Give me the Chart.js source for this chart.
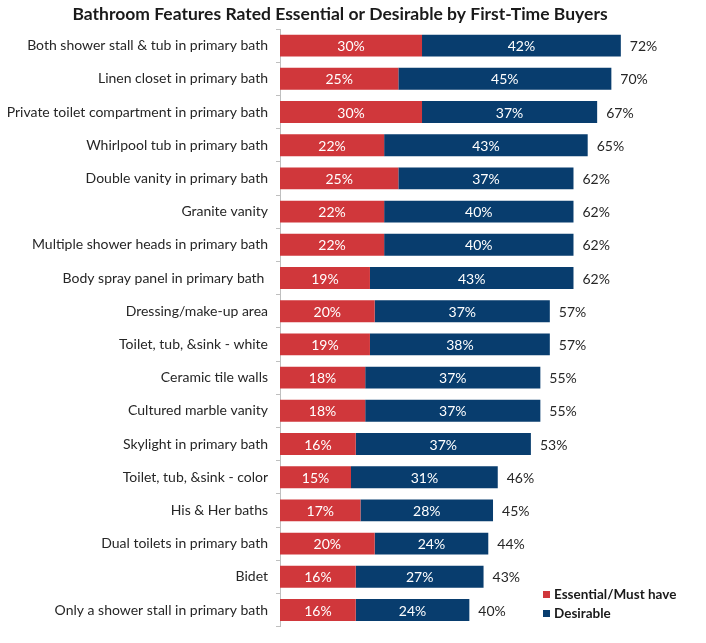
<!DOCTYPE html>
<html>
<head>
<meta charset="utf-8">
<script src="https://cdn.jsdelivr.net/npm/chart.js@4.4.1/dist/chart.umd.min.js"></script>
<style>
  html, body { margin: 0; padding: 0; background: #fff; }
  #wrap { width: 706px; height: 643px; }
</style>
</head>
<body>
<div id="wrap"><canvas id="bathChart"></canvas></div>
<script>
const features = [
    'Both shower stall & tub in primary bath',
    'Linen closet in primary bath',
    'Private toilet compartment in primary bath',
    'Whirlpool tub in primary bath',
    'Double vanity in primary bath',
    'Granite vanity',
    'Multiple shower heads in primary bath',
    'Body spray panel in primary bath ',
    'Dressing/make-up area',
    'Toilet, tub, &sink - white',
    'Ceramic tile walls',
    'Cultured marble vanity',
    'Skylight in primary bath',
    'Toilet, tub, &sink - color',
    'His & Her baths',
    'Dual toilets in primary bath',
    'Bidet',
    'Only a shower stall in primary bath'
];
const essential = [30, 25, 30, 22, 25, 22, 22, 19, 20, 19, 18, 18, 16, 15, 17, 20, 16, 16];
const desirable = [42, 45, 37, 43, 37, 40, 40, 43, 37, 38, 37, 37, 37, 31, 28, 24, 27, 24];
const totals = [72, 70, 67, 65, 62, 62, 62, 62, 57, 57, 55, 55, 53, 46, 45, 44, 43, 40];

const RED = '#D0373B';
const BLUE = '#083D6E';
const FONT = 'Lato, "Open Sans", sans-serif';

// labels inside segments and totals at bar end
const barLabels = {
    id: 'barLabels',
    afterDatasetsDraw(chart) {
        const ctx = chart.ctx;
        ctx.save();
        ctx.font = '14px ' + FONT;
        ctx.textBaseline = 'middle';
        chart.data.datasets.forEach(function(ds, di) {
            const meta = chart.getDatasetMeta(di);
            meta.data.forEach(function(bar, i) {
                const mid = (bar.x + bar.base) / 2;
                ctx.fillStyle = '#ffffff';
                ctx.textAlign = 'center';
                ctx.fillText(ds.data[i] + '%', mid, bar.y + 1);
                if (di === 1) {
                    ctx.fillStyle = '#262626';
                    ctx.textAlign = 'left';
                    ctx.fillText(totals[i] + '%', bar.x + 9, bar.y + 1);
                }
            });
        });
        ctx.restore();
    }
};

// legend sits inside the plot, lower right
const cornerLegend = {
    id: 'cornerLegend',
    afterDraw(chart) {
        const ctx = chart.ctx;
        const x = 543, y0 = 594;
        ctx.save();
        ctx.font = 'bold 13.5px ' + FONT;
        ctx.textBaseline = 'middle';
        ctx.textAlign = 'left';
        chart.data.datasets.forEach(function(ds, di) {
            const y = y0 + di * 19;
            ctx.fillStyle = ds.backgroundColor;
            ctx.fillRect(x, y - 3, 7, 7);
            ctx.fillStyle = '#1a1a1a';
            ctx.fillText(ds.label, x + 11, y + 1);
        });
        ctx.restore();
    }
};

const ctx = document.getElementById('bathChart').getContext('2d');
const bathChart = new Chart(ctx, {
    type: 'bar',
    data: {
        labels: features,
        datasets: [{
            label: 'Essential/Must have',
            data: essential,
            backgroundColor: RED,
            borderWidth: 0,
            categoryPercentage: 1,
            barPercentage: 0.66
        }, {
            label: 'Desirable',
            data: desirable,
            backgroundColor: BLUE,
            borderWidth: 0,
            categoryPercentage: 1,
            barPercentage: 0.66
        }]
    },
    options: {
        indexAxis: 'y',
        responsive: true,
        maintainAspectRatio: false,
        animation: false,
        layout: {
            padding: { left: 0, right: 26, top: 0, bottom: 5 }
        },
        scales: {
            x: {
                stacked: true,
                display: false,
                min: 0,
                max: 84.5
            },
            y: {
                stacked: true,
                afterFit: function(scale) {
                    scale.width = 280;
                },
                border: { display: true, color: '#bfbfbf', width: 1 },
                grid: {
                    drawOnChartArea: false,
                    drawTicks: true,
                    tickLength: 4,
                    color: '#bfbfbf'
                },
                ticks: {
                    padding: 8,
                    color: '#262626',
                    font: { family: FONT, size: 14 }
                }
            }
        },
        plugins: {
            legend: { display: false },
            tooltip: { enabled: false },
            title: {
                display: true,
                text: 'Bathroom Features Rated Essential or Desirable by First-Time Buyers',
                color: '#1a1a1a',
                font: { family: FONT, size: 17.5, weight: 'bold' },
                padding: { top: 4, bottom: 4 }
            }
        }
    },
    plugins: [barLabels, cornerLegend]
});
</script>
</body>
</html>
